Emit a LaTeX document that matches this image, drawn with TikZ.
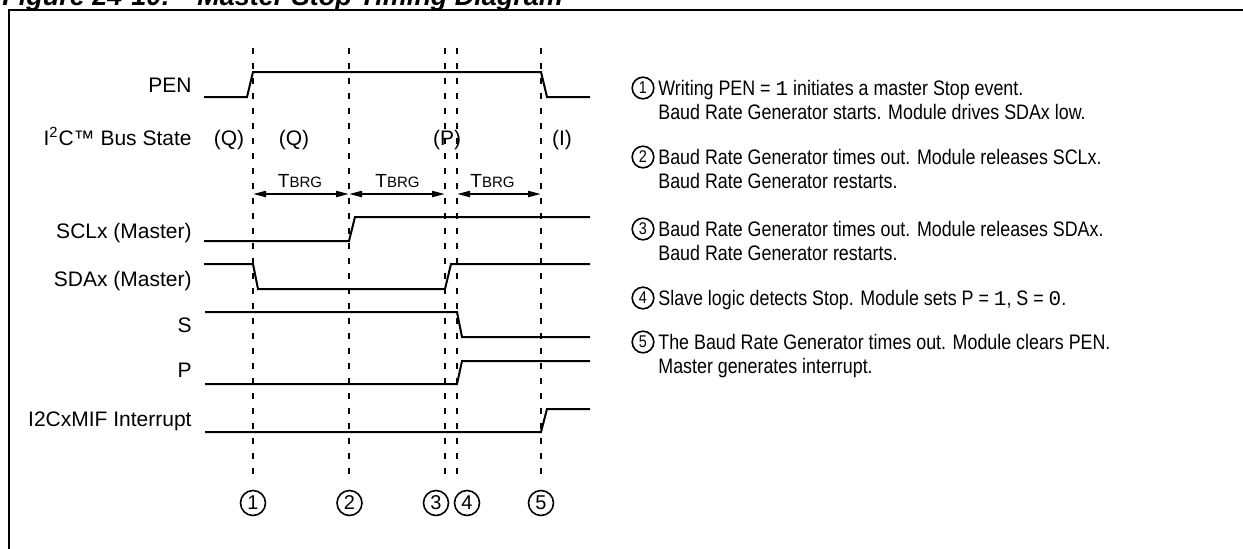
\documentclass[tikz,border=0pt]{standalone}
\usepackage{fontspec}
\setmainfont{Liberation Sans}
\newfontfamily\narrowfont[FakeStretch=0.85]{Liberation Sans}
\newfontfamily\codefont{Liberation Mono}
\usetikzlibrary{arrows.meta}
\begin{document}
\begin{tikzpicture}[x=0.5pt,y=-0.5pt,
  sig/.style={line width=1pt},
  guide/.style={line width=1pt, dash pattern=on 3pt off 4.5pt},
  frame/.style={line width=1.3pt},
  lbl/.style={anchor=base east, inner sep=0pt, font=\fontsize{10.5}{12}\selectfont},
  state/.style={anchor=base, inner sep=0pt, font=\fontsize{10.5}{12}\selectfont},
  tbrg/.style={anchor=base, inner sep=0pt, font=\fontsize{9.5}{10}\selectfont},
  dim/.style={line width=1pt, {Triangle[length=6.5pt,width=3pt]}-{Triangle[length=6.5pt,width=3pt]}},
  bignum/.style={circle, draw, line width=0.8pt, minimum size=12.5pt, inner sep=0pt, font=\fontsize{10}{10}\selectfont},
  smallnum/.style={circle, draw, line width=0.8pt, minimum size=10.8pt, inner sep=0pt, font=\narrowfont\fontsize{8.5}{9}\selectfont},
  note/.style={anchor=base west, inner sep=0pt, font=\narrowfont\fontsize{10.5}{12.5}\selectfont}
]
\useasboundingbox (0,0) rectangle (1243,548);

% frame and title
\draw[frame] (9,570) -- (9,10) -- (1270,10);
\node[anchor=base west, inner sep=0pt, font=\bfseries\itshape\fontsize{13.5}{15}\selectfont] (title) at (2,5) {Figure 24-10:\hspace{1em}Master Stop Timing Diagram};

% signal labels
\node[lbl] (lpen) at (192,92) {PEN};
\node[lbl] (lbus) at (192,145) {I\textsuperscript{2}C™ Bus State};
\node[lbl] (lscl) at (192,238) {SCLx (Master)};
\node[lbl] (lsda) at (192,286) {SDAx (Master)};
\node[lbl] (ls) at (192,332) {S};
\node[lbl] (lp) at (192,377) {P};
\node[lbl] (lint) at (192,426) {I2CxMIF Interrupt};

% bus states
\node[state] (q1) at (229,145) {(Q)};
\node[state] (q2) at (294,145) {(Q)};
\node[state] (pp) at (447,145) {(P)};
\node[state] (ii) at (562,145) {(I)};

% guide lines
\foreach \i/\x in {1/253,2/349,3/445,4/457,5/541}{
  \coordinate (gt\i) at (\x,48);
  \coordinate (gb\i) at (\x,480);
  \coordinate (a\i) at (\x,194);
  \draw[guide] (gt\i) -- (gb\i);
}

% TBRG dimension arrows
\draw[dim] (a1) -- (a2);
\draw[dim] (a2) -- (a3);
\draw[dim] (a4) -- (a5);
\node[tbrg] (t1) at (300,187) {T{\fontsize{7.5}{8}\selectfont BRG}};
\node[tbrg] (t2) at (397.5,187) {T{\fontsize{7.5}{8}\selectfont BRG}};
\node[tbrg] (t3) at (492.5,187) {T{\fontsize{7.5}{8}\selectfont BRG}};

% signals
\draw[sig] (204,97) -- (247,97) -- (253,72) -- (541,72) -- (547,97) -- (590,97);
\draw[sig] (204,241) -- (349,241) -- (355,217) -- (590,217);
\draw[sig] (204,264) -- (253,264) -- (258,289) -- (445,289) -- (451,264) -- (590,264);
\draw[sig] (205,312) -- (457,312) -- (462,337) -- (590,337);
\draw[sig] (205,384) -- (457,384) -- (462,361) -- (590,361);
\draw[sig] (205,432) -- (541,432) -- (547,409) -- (590,409);

% bottom event markers
\node[bignum] (c1) at (253,503) {1};
\node[bignum] (c2) at (349.5,503) {2};
\node[bignum] (c3) at (436,503) {3};
\node[bignum] (c4) at (467,503) {4};
\node[bignum] (c5) at (541,503) {5};

% notes
\node[smallnum] (k1) at (643,88) {1};
\node[note] (n1a) at (658,95) {Writing PEN = {\codefont 1} initiates a master Stop event.};
\node[note] (n1b) at (658,119.5) {Baud Rate Generator starts. Module drives SDAx low.};
\node[smallnum] (k2) at (643,157) {2};
\node[note] (n2a) at (658,164) {Baud Rate Generator times out. Module releases SCLx.};
\node[note] (n2b) at (658,188.5) {Baud Rate Generator restarts.};
\node[smallnum] (k3) at (643,229) {3};
\node[note] (n3a) at (658,236) {Baud Rate Generator times out. Module releases SDAx.};
\node[note] (n3b) at (658,260.5) {Baud Rate Generator restarts.};
\node[smallnum] (k4) at (643,298) {4};
\node[note] (n4a) at (658,305) {Slave logic detects Stop. Module sets P = {\codefont 1}, S = {\codefont 0}.};
\node[smallnum] (k5) at (643,342) {5};
\node[note] (n5a) at (658,349) {The Baud Rate Generator times out. Module clears PEN.};
\node[note] (n5b) at (658,373.5) {Master generates interrupt.};
\end{tikzpicture}
\end{document}
